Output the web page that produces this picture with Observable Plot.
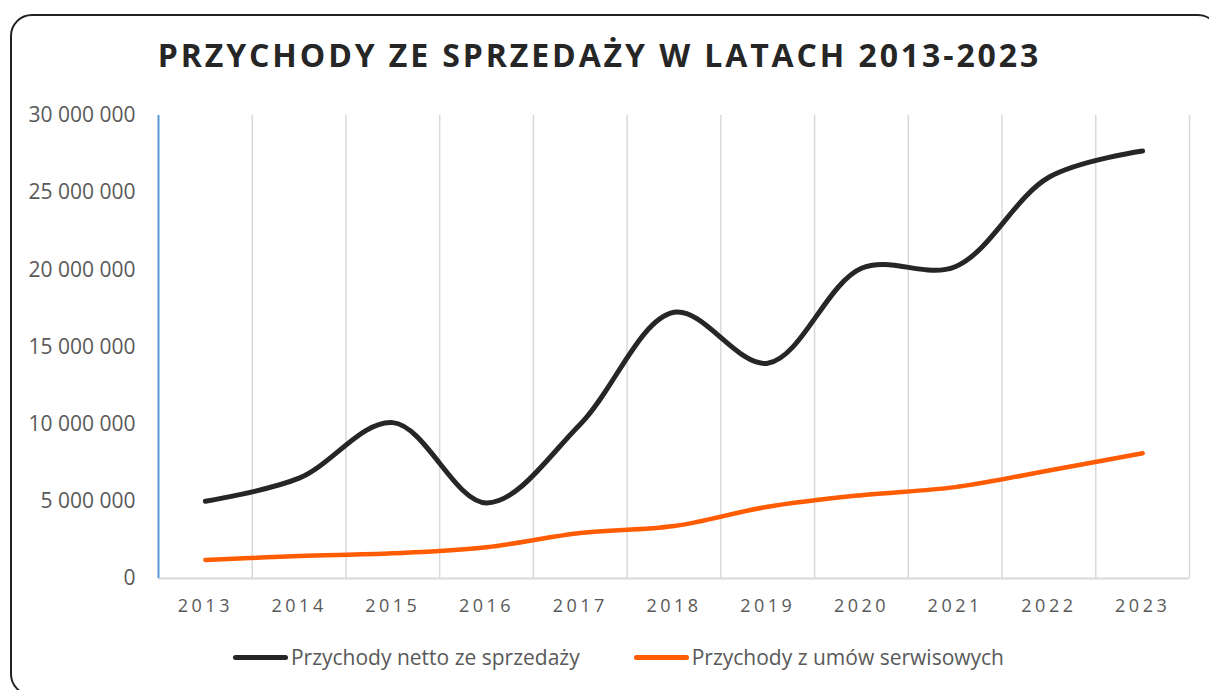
<!DOCTYPE html>
<html>
<head>
<meta charset="utf-8">
<script src="https://cdn.jsdelivr.net/npm/d3@7"></script>
<script src="https://cdn.jsdelivr.net/npm/@observablehq/plot@0.6"></script>
<style>
  html, body { margin: 0; padding: 0; background: #fff; width: 1209px; height: 690px; overflow: hidden; position: relative; }
  #frame { position: absolute; left: 10px; top: 14px; width: 1210px; height: 682px; border: 2px solid #222; border-radius: 22px; box-sizing: border-box; }
  #title { position: absolute; left: 0; width: 1199px; top: 32.5px; text-align: center; font-family: "Open Sans", sans-serif; font-weight: 700; font-size: 32px; letter-spacing: 2.9px; color: #262626; white-space: nowrap; }
  #chart { position: absolute; left: 0; top: 100px; }
  #chart g[aria-label="x-axis tick label"] text { letter-spacing: 3.5px; }
  #legend { position: absolute; left: 14px; width: 1209px; top: 643px; display: flex; justify-content: center; align-items: center; font-family: "Open Sans", sans-serif; font-size: 21px; color: #595959; }
  .item { display: flex; align-items: center; margin: 0 27px; }
  .swatch { width: 55px; height: 5px; border-radius: 3px; margin-right: 3px; }
</style>
</head>
<body>
<div id="frame"></div>
<div id="title">PRZYCHODY ZE SPRZEDAŻY W LATACH 2013-2023</div>
<div id="chart"></div>
<div id="legend"></div>
<script>
const years = [2013, 2014, 2015, 2016, 2017, 2018, 2019, 2020, 2021, 2022, 2023];
const nettoSprzedaz = [5000000, 6500000, 10100000, 4900000, 10000000, 17250000, 13950000, 20100000, 20200000, 26000000, 27700000];
const umowySerwisowe = [1200000, 1450000, 1630000, 2030000, 2950000, 3400000, 4650000, 5400000, 5920000, 7000000, 8120000];
const yTicks = [0, 5000000, 10000000, 15000000, 20000000, 25000000, 30000000];
const seriesNames = ["Przychody netto ze sprzedaży", "Przychody z umów serwisowych"];
const seriesColors = ["#262626", "#ff5b00"];

const table = years.map((year, i) => ({year, netto: nettoSprzedaz[i], serwis: umowySerwisowe[i]}));
const boundaries = years.map(y => y - 0.5).concat([years[years.length - 1] + 0.5]);
const fmt = d => d3.format(",")(d).replace(/,/g, " ");

const chart = Plot.plot({
  width: 1209,
  height: 530,
  marginLeft: 158,
  marginRight: 20,
  marginTop: 15,
  marginBottom: 52,
  style: {fontFamily: "'Open Sans', sans-serif", color: "#595959", background: "transparent"},
  x: {type: "linear", domain: [years[0] - 0.5, years[years.length - 1] + 0.5], axis: null},
  y: {domain: [yTicks[0], yTicks[yTicks.length - 1]], axis: null},
  marks: [
    Plot.ruleX(boundaries.slice(1), {y1: yTicks[0], y2: yTicks[yTicks.length - 1], stroke: "#d9d9d9", strokeWidth: 1.5}),
    Plot.ruleY([0], {stroke: "#d9d9d9", strokeWidth: 2}),
    Plot.ruleX(boundaries.slice(0, 1), {y1: yTicks[0], y2: yTicks[yTicks.length - 1], stroke: "#5b9bd5", strokeWidth: 2}),
    Plot.axisY(yTicks, {tickSize: 0, tickPadding: 23, tickFormat: fmt, fontSize: 21, label: null}),
    Plot.axisX(years, {tickSize: 0, tickPadding: 21, tickFormat: d => String(d), fontSize: 18, label: null}),
    Plot.line(table, {x: "year", y: "serwis", curve: "catmull-rom", stroke: seriesColors[1], strokeWidth: 4.5, strokeLinecap: "round"}),
    Plot.line(table, {x: "year", y: "netto", curve: "catmull-rom", stroke: seriesColors[0], strokeWidth: 5, strokeLinecap: "round"})
  ]
});
document.getElementById("chart").appendChild(chart);

const legend = document.getElementById("legend");
seriesNames.forEach((name, i) => {
  const item = document.createElement("div");
  item.className = "item";
  const sw = document.createElement("div");
  sw.className = "swatch";
  sw.style.background = seriesColors[i];
  const label = document.createElement("span");
  label.textContent = name;
  item.appendChild(sw);
  item.appendChild(label);
  legend.appendChild(item);
});
</script>
</body>
</html>
